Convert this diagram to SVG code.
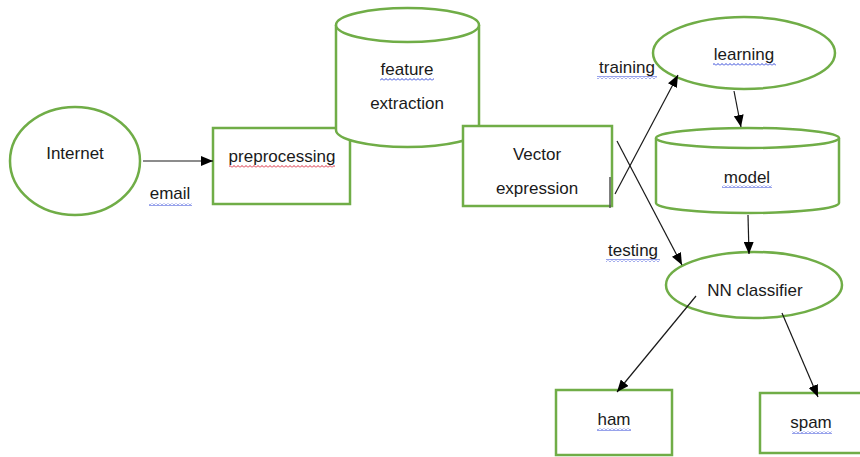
<svg xmlns="http://www.w3.org/2000/svg" width="860" height="457" viewBox="0 0 860 457">
<style>
.shape{fill:#fff;stroke:#70AD47;stroke-width:2.5}
.lbl{font-family:"Liberation Sans",Arial,sans-serif;font-size:17px;fill:#1a1a1a;text-anchor:middle}
.conn{stroke:#1a1a1a;stroke-width:1.2;fill:none}
</style>
<defs>
<marker id="arr" viewBox="0 0 12 10" refX="12" refY="5" markerWidth="12" markerHeight="10" markerUnits="userSpaceOnUse" orient="auto">
<path d="M0,0 L12,5 L0,10 z" fill="#000"/>
</marker>
<pattern id="wb" width="4" height="3" patternUnits="userSpaceOnUse">
<path d="M0,2.5 L2,0.5 L4,2.5" stroke="#2f45d8" stroke-width="1" fill="none"/>
</pattern>
<pattern id="wr" width="4" height="3" patternUnits="userSpaceOnUse">
<path d="M0,2.5 L2,0.5 L4,2.5" stroke="#d8283b" stroke-width="1" fill="none"/>
</pattern>
</defs>
<rect width="860" height="457" fill="#fff"/>

<g id="internet">
<ellipse class="shape" cx="75" cy="161" rx="65" ry="54"/>
<text class="lbl" x="75" y="159">Internet</text>
</g>

<g id="preprocessing">
<rect class="shape" x="213" y="128" width="137" height="76"/>
<text class="lbl" x="282" y="162">preprocessing</text>
<rect x="229" y="165" width="106" height="3" fill="url(#wr)"/>
</g>

<g id="feature-extraction">
<path class="shape" d="M336,25 L336,130 A71.5,17 0 0 0 479,130 L479,25"/>
<ellipse class="shape" cx="407.5" cy="25" rx="71.5" ry="17"/>
<text class="lbl" x="407" y="75">feature</text>
<rect x="380" y="78" width="54" height="3" fill="url(#wb)"/>
<text class="lbl" x="407" y="109">extraction</text>
</g>

<g id="vector-expression">
<rect class="shape" x="463" y="126" width="149" height="80"/>
<text class="lbl" x="537" y="160">Vector</text>
<text class="lbl" x="537" y="194">expression</text>
<line x1="610" y1="177" x2="610" y2="208" stroke="#555" stroke-width="1.5"/>
</g>

<g id="learning">
<ellipse class="shape" cx="744" cy="53" rx="91" ry="36"/>
<text class="lbl" x="744" y="60">learning</text>
<rect x="713" y="63" width="63" height="3" fill="url(#wb)"/>
</g>

<g id="model">
<path class="shape" d="M656,138 L656,203 A91.5,10 0 0 0 839,203 L839,138"/>
<ellipse class="shape" cx="747.5" cy="138" rx="91.5" ry="10"/>
<text class="lbl" x="747" y="183">model</text>
<rect x="722" y="185" width="50" height="3" fill="url(#wb)"/>
</g>

<g id="nn-classifier">
<ellipse class="shape" cx="754" cy="285" rx="88" ry="33"/>
<text class="lbl" x="755" y="296">NN classifier</text>
</g>

<g id="ham">
<rect class="shape" x="556" y="390" width="116" height="65"/>
<text class="lbl" x="614" y="425">ham</text>
<rect x="597" y="428" width="34" height="3" fill="url(#wb)"/>
</g>

<g id="spam">
<rect class="shape" x="760" y="393" width="104" height="60"/>
<text class="lbl" x="811" y="428">spam</text>
<rect x="792" y="431" width="40" height="3" fill="url(#wb)"/>
</g>

<g id="labels">
<text class="lbl" x="170" y="199">email</text>
<rect x="149" y="203" width="43" height="3" fill="url(#wb)"/>
<text class="lbl" x="627" y="73">training</text>
<rect x="597" y="76" width="60" height="3" fill="url(#wb)"/>
<text class="lbl" x="633" y="256">testing</text>
<rect x="606" y="259" width="54" height="3" fill="url(#wb)"/>
</g>

<g id="connectors">
<line class="conn" x1="143" y1="161" x2="213" y2="161" marker-end="url(#arr)"/>
<line class="conn" x1="615" y1="194" x2="678" y2="75" marker-end="url(#arr)"/>
<line class="conn" x1="617" y1="141" x2="682" y2="265" marker-end="url(#arr)"/>
<line class="conn" x1="734" y1="91" x2="741" y2="127" marker-end="url(#arr)"/>
<line class="conn" x1="748" y1="215" x2="749" y2="254" marker-end="url(#arr)"/>
<line class="conn" x1="696" y1="296" x2="617" y2="392" marker-end="url(#arr)"/>
<line class="conn" x1="782" y1="313" x2="818" y2="397" marker-end="url(#arr)"/>
</g>
</svg>
